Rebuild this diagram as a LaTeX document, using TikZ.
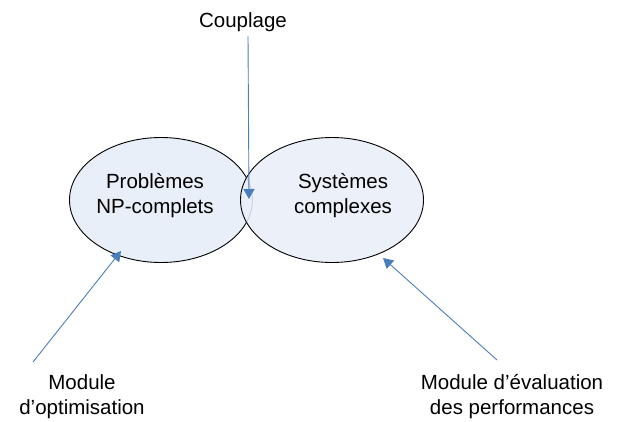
\documentclass[tikz,border=0pt]{standalone}
\usepackage{fontspec}
\setmainfont{Liberation Sans}
\usetikzlibrary{shapes.geometric,arrows.meta}
\definecolor{bulle}{HTML}{E9EFF8}
\definecolor{fleche}{HTML}{4A7EBB}
\begin{document}
\begin{tikzpicture}
	[x=1pt,y=-1pt,
	every node/.style={font=\fontsize{20.5}{25}\selectfont,align=center,inner sep=0pt},
	bulle/.style={ellipse,draw=black,line width=0.9pt,fill=bulle,minimum width=183pt,minimum height=125pt},
	fleche/.style={draw=fleche,line width=0.9pt,-{Triangle[width=11pt,length=10pt]}}
	]
	\useasboundingbox (0,0) rectangle (618,421);
	\node[bulle] (pb) at (161,200) {};
	\node[bulle,fill opacity=0.88] (sys) at (332,200) {};
	\node (pbtxt) at (155,196) {Problèmes\\NP-complets};
	\node (systxt) at (343,196) {Systèmes\\complexes};
	\node (coup) at (243,22) {Couplage};
	\node (opt) at (82,397) {Module\\d’optimisation};
	\node (eval) at (512,397) {Module d’évaluation\\des performances};
	\coordinate (coupA) at (248,36);
	\coordinate (coupB) at (249,199);
	\coordinate (optA) at (33,362);
	\coordinate (optB) at (121,251);
	\coordinate (evalA) at (497,360);
	\coordinate (evalB) at (383,258);
	\draw[fleche] (coupA) -- (coupB);
	\draw[fleche] (optA) -- (optB);
	\draw[fleche] (evalA) -- (evalB);
\end{tikzpicture}
\end{document}
